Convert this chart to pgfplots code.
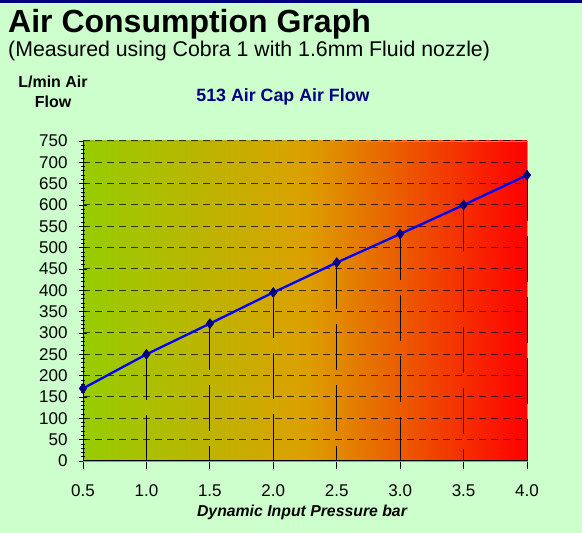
\documentclass[border=0pt]{standalone}
\usepackage{fontspec}
\setmainfont{Liberation Sans}
\usepackage{pgfplots}
\pgfplotsset{compat=1.18}
\definecolor{bgc}{RGB}{204,255,204}
\definecolor{navy}{RGB}{0,0,128}
\definecolor{gl}{RGB}{150,205,0}
\definecolor{gm}{RGB}{220,160,0}
\definecolor{gr}{RGB}{255,0,0}
\begin{document}
\begin{tikzpicture}
\begin{scope}[x=1bp,y=1bp,shift={(-83bp,-72bp)}]
\useasboundingbox (0,0) rectangle (582,533);
\fill[bgc] (0,0) rectangle (582,533);
\fill[navy] (0,530) rectangle (582,533);
\node[anchor=base west, inner sep=0, font=\bfseries\fontsize{32bp}{34bp}\selectfont] at (8,500) {Air Consumption Graph};
\node[anchor=base west, inner sep=0, font=\fontsize{21.3bp}{24bp}\selectfont] at (8,476) {(Measured using Cobra 1 with 1.6mm Fluid nozzle)};
\node[anchor=base, inner sep=0, font=\bfseries\fontsize{16bp}{18bp}\selectfont] at (53,445) {L/min Air};
\node[anchor=base, inner sep=0, font=\bfseries\fontsize{16bp}{18bp}\selectfont] at (53,425) {Flow};
\node[anchor=base, inner sep=0, text=navy, font=\bfseries\fontsize{17.8bp}{20bp}\selectfont] at (283,431) {513 Air Cap Air Flow};
\node[anchor=base, inner sep=0, font=\bfseries\itshape\fontsize{15.8bp}{18bp}\selectfont] at (302,16) {Dynamic Input Pressure bar};
\end{scope}
\begin{axis}[
  scale only axis, width=444bp, height=320bp,
  xmin=0.5, xmax=4, ymin=0, ymax=750,
  clip=false,
  axis line style={draw=gray!80},
  axis background/.style={left color=gl, right color=gr, middle color=gm},
  xtick={0.5,1,...,4},
  ytick={0,50,...,750},
  minor y tick num=4,
  xtick pos=bottom, ytick pos=left,
  xtick align=outside, ytick align=center,
  major tick length=8bp, minor tick length=4bp,
  tick style={black, line width=0.8bp},
  ymajorgrids,
  major grid style={black, opacity=0.7, line width=1bp, dash pattern=on 7bp off 5bp},
  tick label style={font=\fontsize{17bp}{20bp}\selectfont},
  /pgf/number format/assume math mode=true,
  xticklabel style={yshift=-12bp, /pgf/number format/.cd, fixed, fixed zerofill, precision=1},
  yticklabel style={xshift=-8bp, /pgf/number format/.cd, fixed, precision=0},
]
\draw[black, line width=1bp] (rel axis cs:0,1) -- (rel axis cs:0,0) -- (rel axis cs:1,0);
\addplot[black, line width=1bp, dash pattern=on 46bp off 15bp, unbounded coords=jump] coordinates {
 (1.0,250) (1.0,0) (1.0,nan)
 (1.5,322) (1.5,0) (1.5,nan)
 (2.0,395) (2.0,0) (2.0,nan)
 (2.5,465) (2.5,0) (2.5,nan)
 (3.0,532) (3.0,0) (3.0,nan)
 (3.5,600) (3.5,0) (3.5,nan)
 (4.0,670) (4.0,0)
};
\addplot[blue, line width=2.3bp, mark=diamond*, mark size=5bp, mark options={navy, fill=navy, line width=0.5bp}] coordinates {
 (0.5,170) (1.0,250) (1.5,322) (2.0,395) (2.5,465) (3.0,532) (3.5,600) (4.0,670)
};
\end{axis}
\end{tikzpicture}
\end{document}
